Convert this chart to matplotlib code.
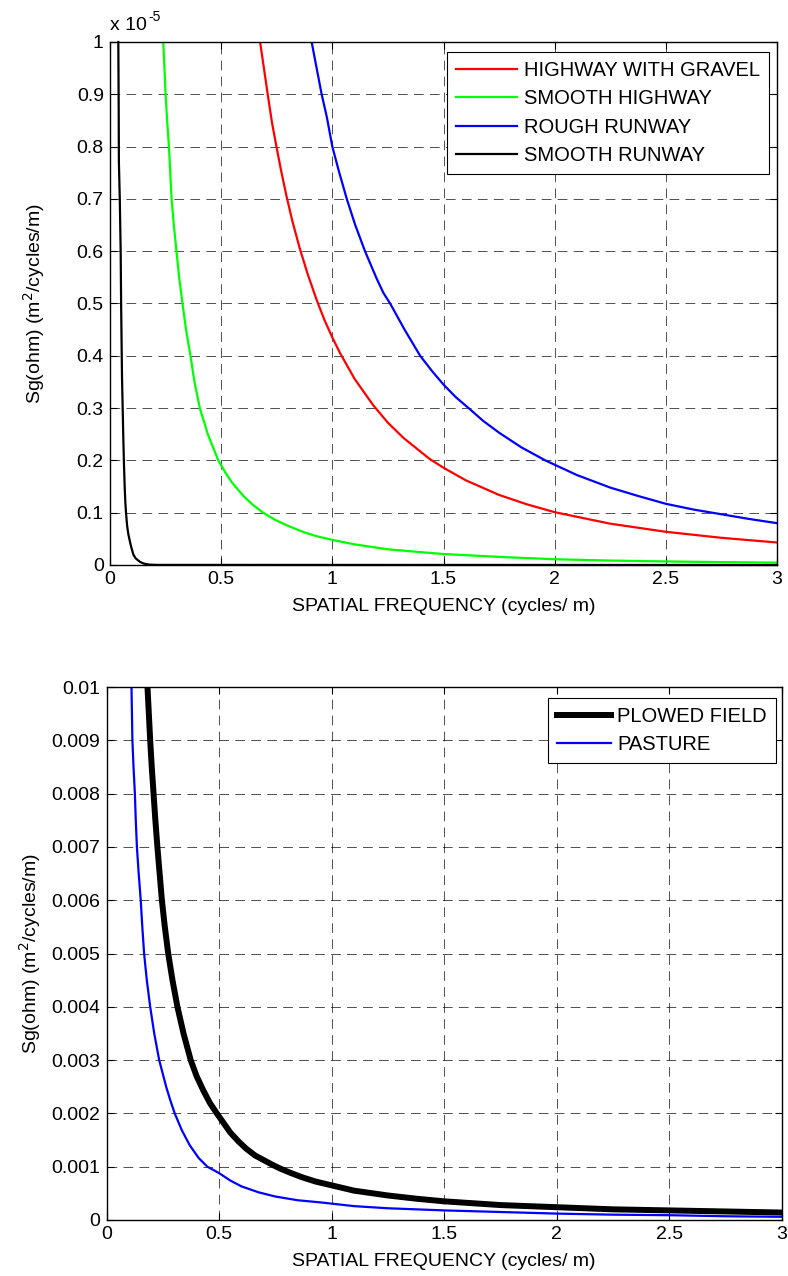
import matplotlib
matplotlib.use("Agg")
import matplotlib.pyplot as plt
from matplotlib.ticker import FuncFormatter

# top panel: spatial frequency (cycles/m) vs Sg in units of 1e-5
hw_gravel_f = [0.675, 0.694, 0.711, 0.729, 0.749, 0.77, 0.793, 0.82, 0.853, 0.89, 0.931, 0.965,
               1.0, 1.035, 1.1, 1.183, 1.25, 1.32, 1.437, 1.5, 1.6, 1.75, 1.875, 2.0, 2.25,
               2.5, 2.75, 3.0]
hw_gravel_s = [1.0, 0.945, 0.895, 0.845, 0.799, 0.753, 0.707, 0.658, 0.606, 0.555, 0.505, 0.468,
               0.435, 0.405, 0.356, 0.306, 0.272, 0.243, 0.203, 0.186, 0.162, 0.134, 0.116, 0.101, 0.079,
               0.0635, 0.052, 0.043]

smooth_hw_f = [0.2395, 0.245, 0.250, 0.257, 0.265, 0.271, 0.277, 0.287, 0.299, 0.311, 0.326, 0.342,
               0.362, 0.38, 0.404, 0.44, 0.487, 0.52, 0.55, 0.60, 0.64, 0.689, 0.74, 0.80,
               0.87, 0.93, 1.0, 1.1, 1.25, 1.4, 1.5, 1.75, 2.0, 2.25, 2.5, 2.75, 3.0]
smooth_hw_s = [1.0, 0.95, 0.9, 0.85, 0.8, 0.75, 0.7, 0.65, 0.6, 0.55, 0.5, 0.45,
               0.4, 0.35, 0.3, 0.25, 0.2, 0.176, 0.157, 0.132, 0.116, 0.1, 0.087, 0.075,
               0.063, 0.055, 0.048, 0.0395, 0.030, 0.0245, 0.021, 0.0155, 0.011, 0.0085, 0.0068,
               0.0055, 0.0045]

rough_rw_f = [0.907, 0.928, 0.952, 0.975, 1.0, 1.03, 1.065, 1.103, 1.147, 1.175, 1.2, 1.23, 1.26,
              1.325, 1.395, 1.45, 1.5, 1.555, 1.613, 1.68, 1.75, 1.85, 1.958, 2.1, 2.25, 2.375,
              2.5, 2.625, 2.75, 2.875, 3.0]
rough_rw_s = [1.0, 0.953, 0.9, 0.857, 0.8, 0.752, 0.7, 0.65, 0.6, 0.572, 0.547, 0.52, 0.5,
              0.45, 0.4, 0.37, 0.345, 0.321, 0.3, 0.275, 0.253, 0.225, 0.2, 0.172, 0.148, 0.132,
              0.117, 0.106, 0.097, 0.088, 0.080]

smooth_rw_f = [0.0374, 0.039, 0.040, 0.044, 0.048, 0.050, 0.052, 0.054, 0.057, 0.060, 0.063,
               0.066, 0.069, 0.072, 0.077, 0.082, 0.087, 0.095, 0.105, 0.115, 0.123, 0.135,
               0.15, 0.165, 0.18, 0.21, 3.0]
smooth_rw_s = [1.0, 0.88, 0.77, 0.70, 0.60, 0.50, 0.43, 0.36, 0.30, 0.24, 0.19,
               0.15, 0.12, 0.10, 0.075, 0.06, 0.05, 0.035, 0.02, 0.013, 0.01, 0.006,
               0.003, 0.0015, 0.0007, 0.0002, 0.0]

# bottom panel
plowed_f = [0.182, 0.188, 0.194, 0.201, 0.209, 0.217, 0.226, 0.236, 0.246, 0.259, 0.274, 0.293,
            0.315, 0.342, 0.374, 0.40, 0.43, 0.46, 0.49, 0.52, 0.55, 0.585, 0.62, 0.66,
            0.70, 0.735, 0.774, 0.82, 0.87, 0.93, 1.0, 1.1, 1.25, 1.375, 1.5, 1.75,
            2.0, 2.25, 2.5, 2.75, 3.0]
plowed_s = [0.010, 0.0095, 0.009, 0.0085, 0.008, 0.0075, 0.007, 0.0065, 0.006, 0.0055, 0.005, 0.0045,
            0.004, 0.0035, 0.003, 0.0027, 0.00243, 0.00219, 0.002, 0.00182, 0.00164, 0.00148, 0.00134, 0.00121,
            0.00112, 0.00104, 0.00096, 0.00088, 0.0008, 0.00072, 0.00065, 0.00055, 0.00046, 0.00040, 0.00035,
            0.00028, 0.00024, 0.0002, 0.00018, 0.00016, 0.00014]

pasture_f = [0.111, 0.113, 0.115, 0.12, 0.126, 0.13, 0.135, 0.143, 0.152, 0.159, 0.167, 0.179,
             0.194, 0.212, 0.234, 0.265, 0.283, 0.303, 0.335, 0.37, 0.41, 0.448, 0.5, 0.55,
             0.6, 0.675, 0.75, 0.85, 0.951, 1.1, 1.25, 1.5, 1.75, 2.0, 2.25, 2.5, 2.75, 3.0]
pasture_s = [0.010, 0.0095, 0.009, 0.0085, 0.008, 0.0075, 0.007, 0.0065, 0.006, 0.0055, 0.005, 0.0045,
             0.004, 0.0035, 0.003, 0.0025, 0.00225, 0.002, 0.00168, 0.0014, 0.00116, 0.001, 0.00088, 0.00074,
             0.00063, 0.00052, 0.00044, 0.00037, 0.00033, 0.00026, 0.00022, 0.00018, 0.00015, 0.00012,
             0.0001, 0.00009, 0.00007, 0.00006]

x_ticks = [0, 0.5, 1, 1.5, 2, 2.5, 3]
top_yticks = [i / 10 for i in range(11)]
bot_yticks = [i / 1000 for i in range(11)]

plt.rcParams['font.family'] = ['Liberation Sans', 'DejaVu Sans']
plt.rcParams['font.size'] = 14
plt.rcParams['lines.scale_dashes'] = False

fig = plt.figure(figsize=(7.88, 12.76), dpi=100)
ax1 = fig.add_axes([110 / 788, 1 - 565 / 1276, 667 / 788, 523 / 1276])
ax2 = fig.add_axes([106.5 / 788, 1 - 1220 / 1276, 675.5 / 788, 533 / 1276])

fmt = FuncFormatter(lambda v, p: "%g" % round(v, 6))


def style(ax, yticks, ylabelpad):
    ax.set_xlim(0, 3)
    ax.set_ylim(yticks[0], yticks[-1])
    ax.set_xticks(x_ticks)
    ax.set_yticks(yticks)
    ax.xaxis.set_major_formatter(fmt)
    ax.yaxis.set_major_formatter(fmt)
    ax.tick_params(direction="in", top=True, right=True, length=5, width=0.8, labelsize=14, pad=4.5)
    ax.grid(True, color="k", linestyle=(0, (7, 4.5)), linewidth=0.6, alpha=0.8)
    for s in ax.spines.values():
        s.set_linewidth(1.0)
    ax.set_xlabel("SPATIAL FREQUENCY (cycles/ m)", fontsize=14, labelpad=7)
    ax.set_ylabel("Sg(ohm) (m$^2$/cycles/m)", fontsize=14, labelpad=ylabelpad)


ax1.plot(hw_gravel_f, hw_gravel_s, color="#ff0000", lw=1.6, label="HIGHWAY WITH GRAVEL")
ax1.plot(smooth_hw_f, smooth_hw_s, color="#00ff00", lw=1.6, label="SMOOTH HIGHWAY")
ax1.plot(rough_rw_f, rough_rw_s, color="#0000ff", lw=1.6, label="ROUGH RUNWAY")
ax1.plot(smooth_rw_f, smooth_rw_s, color="k", lw=1.6, label="SMOOTH RUNWAY", clip_on=False)
style(ax1, top_yticks, 21)
t1 = ax1.text(0.0, 1.016, "x 10", transform=ax1.transAxes, fontsize=14, ha="left", va="bottom")
ax1.annotate("-5", xy=(1, 1), xycoords=t1, xytext=(1, -5), textcoords="offset points",
             fontsize=10, ha="left", va="bottom")
leg1 = ax1.legend(loc="upper right", bbox_to_anchor=(0.988, 0.981), fontsize=14.5, frameon=True,
                  fancybox=False, edgecolor="k", framealpha=1, borderpad=0.45, labelspacing=0.47,
                  handlelength=3.0, handletextpad=0.35, borderaxespad=0)
leg1.get_frame().set_linewidth(0.8)

ax2.plot(plowed_f, plowed_s, color="k", lw=4.3, label="PLOWED FIELD")
ax2.plot(pasture_f, pasture_s, color="#0000ff", lw=1.6, label="PASTURE")
style(ax2, bot_yticks, 6)
leg2 = ax2.legend(loc="upper right", bbox_to_anchor=(0.991, 0.979), fontsize=14.5, frameon=True,
                  fancybox=False, edgecolor="k", framealpha=1, borderpad=0.45, labelspacing=0.42,
                  handlelength=2.7, handletextpad=0.3, borderaxespad=0)
leg2.get_frame().set_linewidth(0.8)

fig.savefig("out.png", dpi=100)
